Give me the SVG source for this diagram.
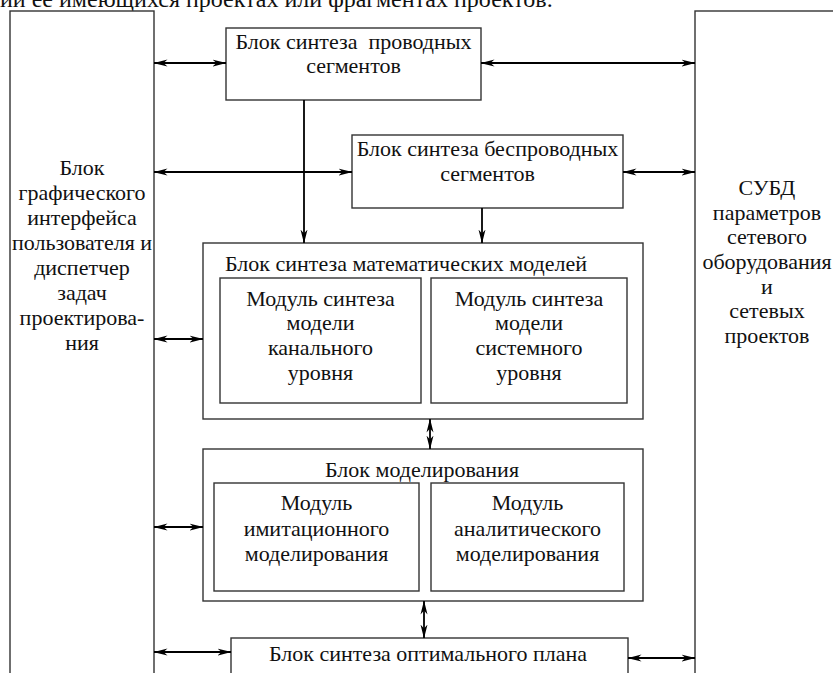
<svg xmlns="http://www.w3.org/2000/svg" width="833" height="673" viewBox="0 0 833 673">
<defs>
<marker id="ah" viewBox="0 0 14 8" markerWidth="14" markerHeight="8" refX="13.5" refY="4" orient="auto-start-reverse" markerUnits="userSpaceOnUse">
<path d="M0,0.5 L14,4 L0,7.5 L4,4 z" fill="#000"/>
</marker>
<style>
rect{fill:#fff;stroke:#333;stroke-width:1.4}
text{font-family:'Liberation Serif','Times New Roman',serif;font-size:22px;fill:#111;text-anchor:middle}
.c line{stroke:#000;stroke-width:1.8;marker-start:url(#ah);marker-end:url(#ah)}
.c line.one{marker-start:none}
</style>
</defs>
<rect width="833" height="673" style="fill:#fff;stroke:none"/>
<text x="0" y="7" style="text-anchor:start;font-size:24px">ии ее имеющихся проектах или фрагментах проектов.</text>

<g id="gui">
<rect x="10" y="11" width="144" height="680"/>
<text x="82" y="175">Блок</text>
<text x="82" y="200">графического</text>
<text x="82" y="225">интерфейса</text>
<text x="82" y="250">пользователя и</text>
<text x="82" y="275">диспетчер</text>
<text x="82" y="300">задач</text>
<text x="82" y="325">проектирова-</text>
<text x="82" y="350">ния</text>
</g>

<g id="dbms">
<rect x="695" y="11" width="150" height="680"/>
<text x="767" y="195">СУБД</text>
<text x="767" y="220">параметров</text>
<text x="767" y="244">сетевого</text>
<text x="767" y="269">оборудования</text>
<text x="767" y="294">и</text>
<text x="767" y="318">сетевых</text>
<text x="767" y="343">проектов</text>
</g>

<g id="wired">
<rect x="226" y="28" width="255" height="72"/>
<text x="353.5" y="49" style="white-space:pre">Блок синтеза  проводных</text>
<text x="353.5" y="73">сегментов</text>
</g>

<g id="wireless">
<rect x="352" y="135" width="271" height="73"/>
<text x="487.5" y="156">Блок синтеза беспроводных</text>
<text x="487.5" y="181">сегментов</text>
</g>

<g id="math">
<rect x="203" y="243" width="440" height="176"/>
<text x="406" y="271">Блок синтеза математических моделей</text>
</g>
<g id="math-channel">
<rect x="220" y="278" width="201" height="125"/>
<text x="320.5" y="306">Модуль синтеза</text>
<text x="320.5" y="330">модели</text>
<text x="320.5" y="355">канального</text>
<text x="320.5" y="380">уровня</text>
</g>
<g id="math-system">
<rect x="431" y="278" width="196" height="125"/>
<text x="529" y="306">Модуль синтеза</text>
<text x="529" y="330">модели</text>
<text x="529" y="355">системного</text>
<text x="529" y="380">уровня</text>
</g>

<g id="modeling">
<rect x="203" y="449" width="440" height="152"/>
<text x="422" y="477">Блок моделирования</text>
</g>
<g id="sim">
<rect x="214" y="483" width="205" height="108"/>
<text x="316.5" y="510">Модуль</text>
<text x="316.5" y="536">имитационного</text>
<text x="316.5" y="561">моделирования</text>
</g>
<g id="analytic">
<rect x="431" y="483" width="193" height="108"/>
<text x="527.5" y="510">Модуль</text>
<text x="527.5" y="536">аналитического</text>
<text x="527.5" y="561">моделирования</text>
</g>

<g id="optimal">
<rect x="231" y="638" width="397" height="60"/>
<text x="428" y="661">Блок синтеза оптимального плана</text>
</g>

<g id="connectors" class="c">
<line x1="154" y1="63" x2="226" y2="63"/>
<line x1="481" y1="63" x2="695" y2="63"/>
<line class="one" x1="304" y1="100" x2="304" y2="243"/>
<line x1="154" y1="172" x2="352" y2="172"/>
<line x1="623" y1="172" x2="695" y2="172"/>
<line class="one" x1="482" y1="208" x2="482" y2="243"/>
<line x1="154" y1="339" x2="203" y2="339"/>
<line x1="430" y1="419" x2="430" y2="449"/>
<line x1="154" y1="527" x2="203" y2="527"/>
<line x1="424" y1="601" x2="424" y2="638"/>
<line x1="154" y1="652" x2="231" y2="652"/>
<line x1="628" y1="658" x2="695" y2="658"/>
</g>
</svg>
